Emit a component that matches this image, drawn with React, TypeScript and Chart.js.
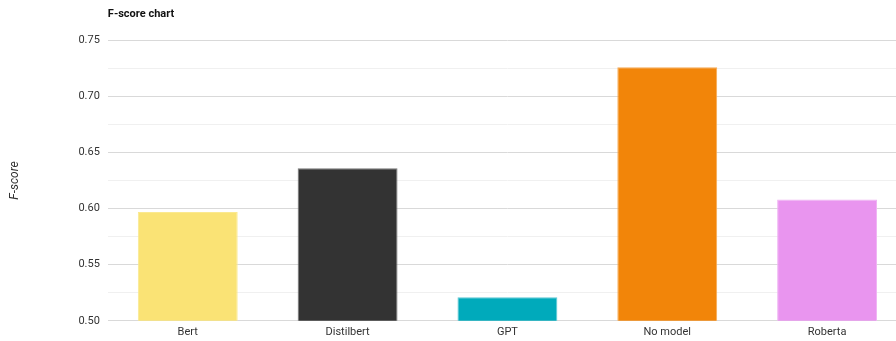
import React, { useEffect, useRef } from "react";
import { Chart, registerables } from "chart.js";

Chart.register(...registerables);

const categories = ["Bert", "Distilbert", "GPT", "No model", "Roberta"];
const fScores = [0.597, 0.636, 0.521, 0.726, 0.608];
const barColors = ["#fae375", "#333333", "#00aabb", "#f28509", "#e995ef"];
const barBorders = ["#fbe98f", "#777777", "#5cc8d4", "#f6ab55", "#efb3f3"];
const yMin = 0.5;
const yMax = 0.75;

export default function App() {
  const ref = useRef<HTMLCanvasElement | null>(null);

  useEffect(() => {
    if (!ref.current) return;
    const chart = new Chart(ref.current, {
      type: "bar",
      data: {
        labels: categories,
        datasets: [
          {
            label: "F-score",
            data: fScores,
            backgroundColor: barColors,
            borderColor: barBorders,
            borderWidth: 1,
            categoryPercentage: 1,
            barPercentage: 0.625,
          },
        ],
      },
      options: {
        responsive: false,
        animation: false,
        layout: { padding: { left: 0, right: 1, top: 0, bottom: 0 } },
        plugins: {
          legend: { display: false },
          tooltip: { enabled: false },
          title: {
            display: true,
            text: "F-score chart",
            align: "start",
            fullSize: false,
            color: "#111111",
            font: { family: "Roboto", size: 11, weight: "bold" },
            padding: { top: 0, bottom: 19 },
          },
        },
        scales: {
          x: {
            grid: { display: false, drawTicks: false },
            border: { display: false },
            ticks: {
              color: "#333333",
              font: { family: "Roboto", size: 11 },
              padding: 5,
            },
          },
          y: {
            min: yMin,
            max: yMax,
            border: { display: false },
            grid: {
              drawTicks: false,
              color: (ctx: any) => {
                const v = ctx.tick ? ctx.tick.value : 0;
                const isMajor = Math.abs(Math.round(v * 20) - v * 20) < 1e-6;
                return isMajor ? "#d9d9d9" : "#f0f0f0";
              },
            },
            ticks: {
              stepSize: 0.025,
              padding: 8,
              color: "#333333",
              font: { family: "Roboto", size: 11 },
              callback: (value: any) => {
                const v = Number(value);
                const isMajor = Math.abs(Math.round(v * 20) - v * 20) < 1e-6;
                return isMajor ? v.toFixed(2) : "";
              },
            },
            title: {
              display: true,
              text: "F-score",
              color: "#333333",
              font: { family: "Roboto", size: 12, style: "italic" },
              padding: { top: 0, bottom: 48 },
            },
          },
        },
      },
    });
    return () => chart.destroy();
  }, []);

  return (
    <div
      style={{
        position: "fixed",
        left: 0,
        top: 0,
        width: 896,
        height: 341,
        overflow: "hidden",
        background: "#ffffff",
      }}
    >
      <canvas
        ref={ref}
        width={900}
        height={336}
        style={{ position: "absolute", left: 8, top: 8, display: "block" }}
      />
    </div>
  );
}
